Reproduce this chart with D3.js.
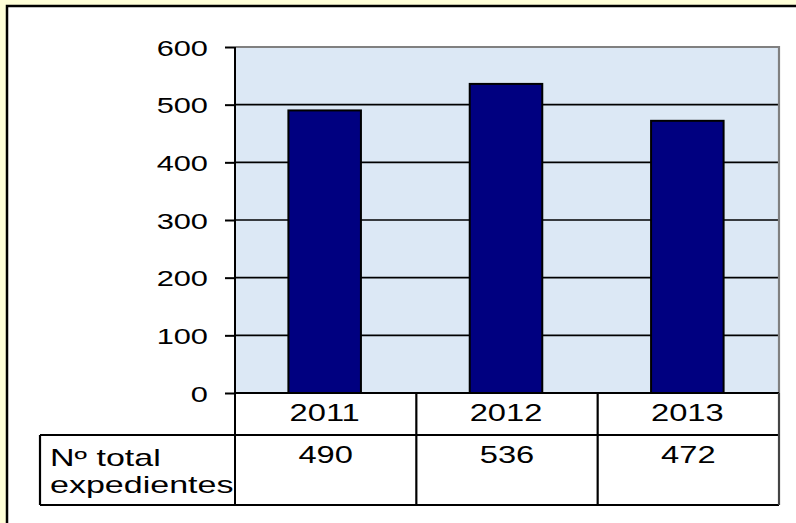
<!DOCTYPE html>
<html><head><meta charset="utf-8">
<script src="https://cdn.jsdelivr.net/npm/d3@7"></script>
<style>html,body{margin:0;padding:0;background:#ffffd8;}svg{display:block;}</style>
</head><body>
<script>
const categories = ["2011", "2012", "2013"];
const values = [490, 536, 472];
const yTicks = [0, 100, 200, 300, 400, 500, 600];
const rowLabel = ["Nº total", "expedientes"];

(function () {
const W = 796, H = 523;
const svg = d3.select("body").append("svg").attr("width", W).attr("height", H);
svg.append("rect").attr("width", W).attr("height", H).attr("fill", "#ffffd8");
// outer frame (extends beyond the picture on right/bottom)
svg.append("rect").attr("x", 7).attr("y", 6).attr("width", 900).attr("height", 900)
  .attr("fill", "#ffffff").attr("stroke", "#000").attr("stroke-width", 2.5);

const pLeft = 235, pRight = 779, pTop = 47, zeroY = 393;
const row1B = 435, row2B = 505, labelL = 40;
const x = d3.scaleBand().domain(categories).range([pLeft, pRight]).paddingInner(0).paddingOuter(0);
const y = d3.scaleLinear().domain([0, 600]).range([zeroY, pTop]);

// plot background
svg.append("rect").attr("x", pLeft).attr("y", pTop).attr("width", pRight - pLeft).attr("height", zeroY - pTop)
  .attr("fill", "#dce8f5");

// gridlines
svg.append("g").selectAll("line").data(yTicks.filter(d => d > 0 && d < 600)).join("line")
  .attr("x1", pLeft).attr("x2", pRight).attr("y1", d => y(d)).attr("y2", d => y(d))
  .attr("stroke", "#000").attr("stroke-width", 1.6);
// gray plot border top/right
svg.append("path").attr("d", `M${pLeft},${pTop}H${pRight}V${zeroY}`)
  .attr("fill", "none").attr("stroke", "#808080").attr("stroke-width", 2.2);

// bars
const bw = x.bandwidth() * 0.4;
svg.append("g").selectAll("rect").data(values).join("rect")
  .attr("x", (d, i) => x(categories[i]) + x.bandwidth() / 2 - bw / 2 - 1)
  .attr("y", d => y(d))
  .attr("width", bw).attr("height", d => zeroY - y(d))
  .attr("fill", "#000080").attr("stroke", "#000").attr("stroke-width", 2);

const font = "Liberation Sans, Arial, sans-serif";
// y axis
const yAxis = d3.axisLeft(y).tickValues(yTicks).tickSize(10).tickPadding(0).tickFormat(d3.format("d"));
const ga = svg.append("g").attr("transform", `translate(${pLeft},0)`).call(yAxis);
ga.select(".domain").remove();
ga.selectAll(".tick line").attr("stroke", "#000").attr("stroke-width", 2);
ga.selectAll(".tick text").each(function(d) {
  const t = d3.select(this);
  t.attr("x", null).attr("dy", null)
   .attr("transform", `translate(-27,8) scale(1.4,1)`)
   .attr("text-anchor", "end")
   .attr("font-family", font)
   .attr("font-size", 22).attr("fill", "#000");
});
// vertical axis line through table
svg.append("line").attr("x1", pLeft).attr("x2", pLeft).attr("y1", pTop).attr("y2", row2B)
  .attr("stroke", "#000").attr("stroke-width", 2);

// table lines
const tl = svg.append("g").attr("stroke", "#000").attr("stroke-width", 2.2).attr("fill", "none");
tl.append("line").attr("x1", pLeft).attr("x2", pRight).attr("y1", zeroY).attr("y2", zeroY);
tl.append("line").attr("x1", labelL).attr("x2", pRight).attr("y1", row1B).attr("y2", row1B);
tl.append("line").attr("x1", labelL).attr("x2", pRight).attr("y1", row2B).attr("y2", row2B);
tl.append("line").attr("x1", labelL).attr("x2", labelL).attr("y1", row1B).attr("y2", row2B);
tl.selectAll("line.col").data(categories.slice(1)).join("line").attr("class", "col")
  .attr("x1", d => x(d)).attr("x2", d => x(d)).attr("y1", zeroY).attr("y2", row2B);
tl.append("line").attr("x1", pRight).attr("x2", pRight).attr("y1", zeroY).attr("y2", row2B).attr("stroke", "#444");

function stretchedText(g, tx, ty, txt, anchor, sx) {
  g.append("text").attr("transform", `translate(${tx},${ty}) scale(${sx},1)`)
    .attr("text-anchor", anchor).attr("font-family", font).attr("font-size", 23)
    .attr("fill", "#000").text(txt);
}
const tg = svg.append("g");
categories.forEach((c, i) => {
  const cx = x(c) + x.bandwidth() / 2;
  stretchedText(tg, cx - 1, 421, c, "middle", 1.42);
  stretchedText(tg, cx, 463, String(values[i]), "middle", 1.42);
});
stretchedText(tg, 50, 466, rowLabel[0], "start", 1.48);
stretchedText(tg, 50, 493, rowLabel[1], "start", 1.48);
})();
</script>
</body></html>
